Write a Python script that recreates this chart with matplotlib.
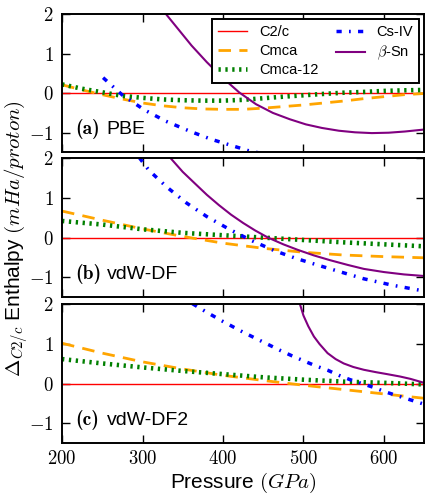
"""
Enthalpy of candidate hydrogen phases relative to C2/c, three functionals.
Stacked panels with shared pressure axis.
"""

import matplotlib as mpl
import matplotlib.pyplot as plt
import matplotlib.ticker as mticker

mpl.rcParams["mathtext.fontset"] = "cm"
mpl.rcParams["font.family"] = ["Liberation Sans", "DejaVu Sans"]

# ---- data (pressure in GPa, enthalpy difference in mHa/proton) ----
panel_tags = ["(a)", "(b)", "(c)"]
panel_names = ["PBE", "vdW-DF", "vdW-DF2"]
series_names = ["C2/c", "Cmca", "Cmca-12", "Cs-IV", r"$\beta$-Sn"]

c2c_p = [200, 650]
c2c_h = [0.0, 0.0]

# (a) PBE
pbe_cmca_p = [200, 225, 250, 275, 300, 325, 350, 375, 400, 425, 450, 475, 500, 525, 550, 575, 600, 625, 650]
pbe_cmca_h = [0.21, 0.08, -0.04, -0.15, -0.25, -0.32, -0.37, -0.40, -0.41, -0.41, -0.38, -0.34, -0.30,
              -0.25, -0.20, -0.14, -0.09, -0.04, -0.01]
pbe_cmca12_p = [200, 225, 250, 275, 300, 325, 350, 375, 400, 425, 450, 475, 500, 525, 550, 575, 600, 625, 650]
pbe_cmca12_h = [0.22, 0.11, 0.02, -0.07, -0.12, -0.16, -0.18, -0.19, -0.19, -0.17, -0.13, -0.09, -0.055,
                -0.02, 0.01, 0.03, 0.055, 0.07, 0.08]
pbe_csiv_p = [251, 275, 302, 329, 361, 386, 415, 431, 447, 460]
pbe_csiv_h = [0.39, -0.05, -0.42, -0.71, -0.98, -1.17, -1.35, -1.45, -1.52, -1.60]
pbe_bsn_p = [327, 345, 361, 380, 400, 420, 441, 462, 483, 503, 523, 544, 564, 585, 606, 626, 650]
pbe_bsn_h = [2.05, 1.60, 1.20, 0.78, 0.38, 0.02, -0.28, -0.50, -0.66, -0.79, -0.88, -0.95, -0.99,
             -1.01, -1.00, -0.97, -0.92]

# (b) vdW-DF
df_cmca_p = [200, 250, 300, 350, 400, 450, 500, 550, 600, 650]
df_cmca_h = [0.67, 0.44, 0.22, 0.03, -0.14, -0.27, -0.37, -0.44, -0.48, -0.51]
df_cmca12_p = [200, 250, 300, 350, 400, 450, 500, 550, 600, 650]
df_cmca12_h = [0.42, 0.33, 0.21, 0.12, 0.06, 0.0, -0.06, -0.12, -0.17, -0.22]
df_csiv_p = [296, 308, 330, 355, 380, 407, 435, 464, 490, 517, 545, 575, 610, 650]
df_csiv_h = [2.02, 1.70, 1.28, 0.87, 0.53, 0.22, -0.07, -0.33, -0.52, -0.69, -0.86, -1.04, -1.20, -1.35]
df_bsn_p = [333, 350, 366, 380, 395, 410, 425, 440, 456, 475, 493, 513, 533, 555, 575, 600, 625, 650]
df_bsn_h = [2.05, 1.66, 1.35, 1.08, 0.82, 0.58, 0.37, 0.18, 0.0, -0.17, -0.31, -0.45, -0.57, -0.69,
            -0.79, -0.87, -0.93, -0.97]

# (c) vdW-DF2
df2_cmca_p = [200, 250, 300, 350, 400, 450, 500, 550, 600, 650]
df2_cmca_h = [1.02, 0.77, 0.55, 0.37, 0.21, 0.08, -0.04, -0.15, -0.26, -0.37]
df2_cmca12_p = [200, 250, 300, 350, 400, 450, 500, 550, 600, 650]
df2_cmca12_h = [0.62, 0.51, 0.41, 0.32, 0.24, 0.16, 0.10, 0.05, 0.02, -0.02]
df2_csiv_p = [362, 380, 400, 425, 450, 472, 486, 501, 515, 530, 544, 558, 573, 588, 602, 619, 633, 650]
df2_csiv_h = [2.02, 1.80, 1.57, 1.30, 1.05, 0.83, 0.70, 0.57, 0.45, 0.34, 0.21, 0.10, 0.0, -0.10,
              -0.21, -0.32, -0.41, -0.52]
df2_bsn_p = [495, 500, 506, 513, 520, 530, 540, 550, 562, 575, 590, 604, 620, 633, 650]
df2_bsn_h = [2.05, 1.72, 1.45, 1.19, 1.00, 0.77, 0.62, 0.51, 0.42, 0.35, 0.29, 0.24, 0.18, 0.12, 0.02]

panels = [
    [(c2c_p, c2c_h), (pbe_cmca_p, pbe_cmca_h), (pbe_cmca12_p, pbe_cmca12_h),
     (pbe_csiv_p, pbe_csiv_h), (pbe_bsn_p, pbe_bsn_h)],
    [(c2c_p, c2c_h), (df_cmca_p, df_cmca_h), (df_cmca12_p, df_cmca12_h),
     (df_csiv_p, df_csiv_h), (df_bsn_p, df_bsn_h)],
    [(c2c_p, c2c_h), (df2_cmca_p, df2_cmca_h), (df2_cmca12_p, df2_cmca12_h),
     (df2_csiv_p, df2_csiv_h), (df2_bsn_p, df2_bsn_h)],
]

# line styles per series
styles = [
    dict(color="#ff0000", lw=1.0, ls="-"),
    dict(color="#ffa500", lw=2.0, ls=(0, (4.5, 3.0))),
    dict(color="#008000", lw=3.3, ls=(0, (0.5, 1.0))),
    dict(color="#0000ff", lw=2.5, ls=(0, (1.5, 2.1, 0.5, 2.1))),
    dict(color="#800080", lw=1.5, ls="-"),
]

fig = plt.figure(figsize=(4.25, 4.94), dpi=100)
left, width, height = 0.146, 0.852, 0.2805
bottoms = [0.6913, 0.3988, 0.1032]
math_fmt = mticker.FuncFormatter(lambda v, pos: f"${v:.0f}$")

axes = []
for i, (bottom, data) in enumerate(zip(bottoms, panels)):
    ax = fig.add_axes([left, bottom, width, height])
    for (p, h), name, st in zip(data, series_names, styles):
        ax.plot(p, h, label=name, **st)

    ax.set_xlim(200, 650)
    ax.set_ylim(-1.5, 2)
    ax.xaxis.set_major_locator(mticker.MultipleLocator(100))
    ax.yaxis.set_major_locator(mticker.MultipleLocator(1))
    ax.xaxis.set_major_formatter(math_fmt)
    ax.yaxis.set_major_formatter(math_fmt)
    ax.tick_params(direction="in", top=True, right=True, length=6, width=1.0,
                   labelsize=13.5)
    ax.tick_params(axis="y", pad=6)
    ax.tick_params(axis="x", pad=5)
    for sp in ax.spines.values():
        sp.set_linewidth(1.4)
    if i < 2:
        ax.tick_params(axis="x", labelbottom=False)

    # bold serif tag, then the functional name in sans
    ax.text(0.036, 0.13, panel_tags[i], transform=ax.transAxes, fontsize=14,
            family="cmb10", va="baseline", ha="left")
    ax.text(0.123, 0.13, panel_names[i], transform=ax.transAxes, fontsize=14,
            va="baseline", ha="left")
    axes.append(ax)

leg = axes[0].legend(ncol=2, loc="upper right", fontsize=10.5, fancybox=False,
                     edgecolor="black", framealpha=1, borderaxespad=0.35,
                     handlelength=2.0, columnspacing=1.2, labelspacing=0.35,
                     borderpad=0.4)
leg.get_frame().set_linewidth(1.4)

axes[-1].set_xlabel(r"Pressure $(GPa)$", fontsize=15, labelpad=2)
fig.text(0.041, 0.518, r"$\Delta_{C2/c}$ Enthalpy $(mHa/proton)$", rotation=90,
         fontsize=15, va="center", ha="center")

fig.savefig("out.png", dpi=100)
